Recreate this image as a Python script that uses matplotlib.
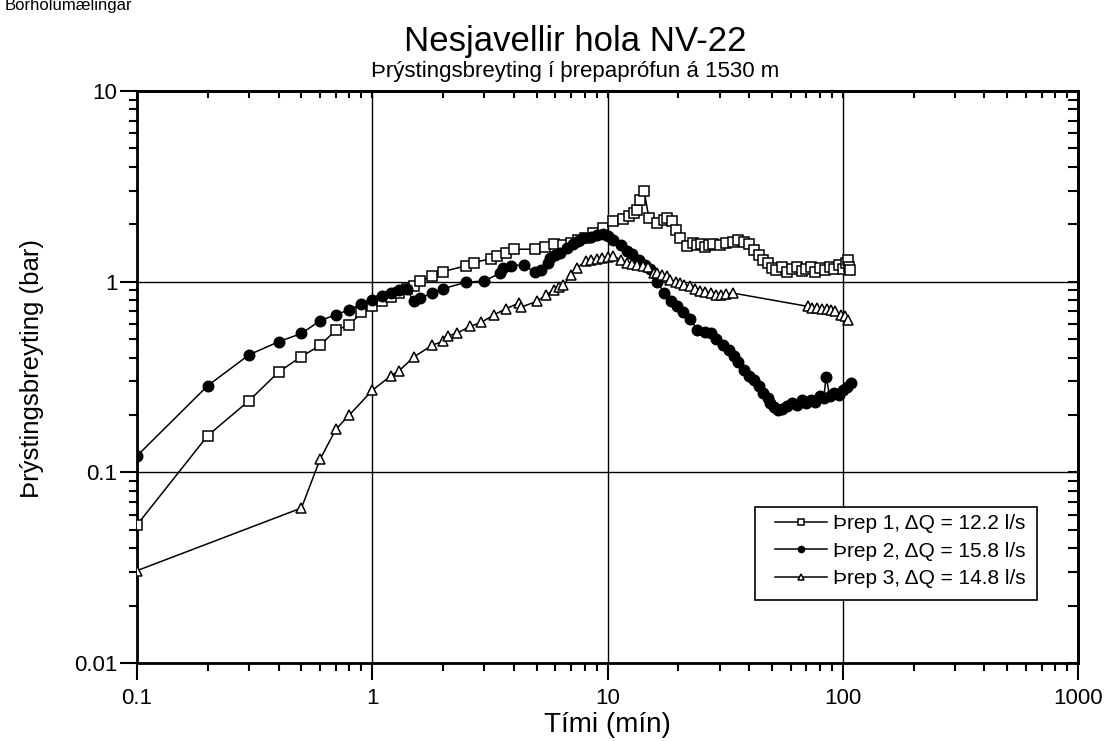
import matplotlib.pyplot as plt
from matplotlib.patches import Rectangle
from matplotlib.ticker import LogLocator, NullFormatter, FixedLocator, FixedFormatter

plt.rcParams['font.family'] = ['Liberation Sans', 'DejaVu Sans']

# Þrep 1 (squares)
t1 = [0.1, 0.2, 0.3, 0.4, 0.5, 0.6, 0.7, 0.8, 0.9, 1.0,
      1.1, 1.2, 1.3, 1.4, 1.5, 1.6, 1.8, 2.0, 2.5, 2.7,
      3.2, 3.4, 3.7, 4.0, 4.9, 5.4, 5.9, 6.5, 7.0, 7.5,
      8.0, 8.7, 9.6, 10.6, 11.6, 12.3, 13.0, 13.4, 13.8, 14.3,
      15.0, 16.3, 17.3, 17.9, 18.8, 19.5, 20.4, 21.8, 23, 24,
      25, 26, 27, 28, 30, 32, 34, 36, 38, 40,
      42, 44, 46, 48, 50, 52, 55, 58, 61, 64,
      67, 70, 73, 76, 80, 84, 88, 92, 96, 100,
      103, 105, 106, 107]
p1 = [0.053, 0.156, 0.238, 0.336, 0.405, 0.463, 0.557, 0.593, 0.69, 0.742,
      0.79, 0.83, 0.87, 0.92, 0.95, 1.01, 1.07, 1.13, 1.21, 1.26,
      1.32, 1.36, 1.41, 1.48, 1.48, 1.52, 1.58, 1.56, 1.6, 1.65,
      1.7, 1.8, 1.91, 2.07, 2.12, 2.2, 2.3, 2.39, 2.69, 3.0,
      2.16, 2.03, 2.1, 2.16, 2.07, 1.87, 1.69, 1.53, 1.6, 1.55,
      1.58, 1.52, 1.56, 1.58, 1.55, 1.6, 1.62, 1.65, 1.62, 1.58,
      1.47, 1.38, 1.3, 1.25, 1.18, 1.15, 1.2, 1.13, 1.16, 1.2,
      1.14, 1.17, 1.2, 1.13, 1.18, 1.15, 1.2, 1.16, 1.22, 1.17,
      1.25, 1.3, 1.2, 1.15]

# Þrep 2 (filled circles)
t2 = [0.1, 0.2, 0.3, 0.4, 0.5, 0.6, 0.7, 0.8, 0.9, 1.0,
      1.1, 1.2, 1.3, 1.4, 1.5, 1.6, 1.8, 2.0, 2.5, 3.0,
      3.5, 3.6, 3.9, 4.4, 4.9, 5.2, 5.6, 5.7, 6.0, 6.3,
      6.7, 7.1, 7.5, 7.9, 8.5, 9.0, 9.6, 10.0, 10.6, 11.4,
      12.1, 12.7, 13.6, 14.5, 15.2, 16.3, 17.4, 18.6, 19.8, 21,
      22.5, 24, 26, 27.5, 29, 31, 33, 34.5, 36, 38,
      40, 42, 44, 46, 48, 49, 51, 53, 55, 58,
      61, 64, 67, 70, 73, 76, 80, 83, 85, 88,
      92, 96, 100, 104, 108]
p2 = [0.122, 0.285, 0.414, 0.484, 0.535, 0.624, 0.671, 0.713, 0.766, 0.804,
      0.845, 0.872, 0.908, 0.92, 0.788, 0.821, 0.872, 0.919, 0.992, 1.01,
      1.11, 1.18, 1.21, 1.23, 1.12, 1.15, 1.25, 1.33, 1.38, 1.41,
      1.5, 1.57, 1.63, 1.7, 1.72, 1.76, 1.78, 1.73, 1.66, 1.56,
      1.44, 1.39, 1.3, 1.23, 1.16, 1.0, 0.872, 0.788, 0.742, 0.69,
      0.64, 0.56, 0.545, 0.538, 0.5, 0.467, 0.44, 0.406, 0.38, 0.345,
      0.32, 0.306, 0.285, 0.26, 0.245, 0.231, 0.22, 0.213, 0.215, 0.222,
      0.23, 0.225, 0.24, 0.232, 0.24, 0.235, 0.25, 0.245, 0.318, 0.25,
      0.26, 0.255, 0.271, 0.28, 0.294]

# Þrep 3 (open triangles)
t3 = [0.1, 0.5, 0.6, 0.7, 0.8, 1.0, 1.2, 1.3, 1.5, 1.8,
      2.0, 2.1, 2.3, 2.6, 2.9, 3.3, 3.7, 4.2, 4.3, 5.0,
      5.5, 5.9, 6.2, 6.5, 7.0, 7.4, 8.1, 8.5, 9.0, 9.5,
      10.0, 10.6, 11.4, 12.1, 12.7, 13.4, 14.1, 14.8, 15.7, 16.3,
      17.1, 17.9, 18.5, 19.5, 20.4, 21.1, 22.5, 23.5, 24.8, 26,
      27.5, 29, 30.3, 32, 34, 71, 74, 78, 82, 86,
      89, 93, 98, 102, 105]
p3 = [0.0305, 0.065, 0.117, 0.168, 0.2, 0.269, 0.321, 0.341, 0.402, 0.465,
      0.486, 0.52, 0.538, 0.582, 0.611, 0.671, 0.721, 0.773, 0.736, 0.788,
      0.85, 0.908, 0.94, 0.964, 1.08, 1.18, 1.28, 1.3, 1.31, 1.33,
      1.35, 1.36, 1.3, 1.25, 1.24, 1.23, 1.21, 1.2, 1.11, 1.11,
      1.09, 1.07, 1.02, 1.0, 0.984, 0.964, 0.945, 0.92, 0.89, 0.88,
      0.872, 0.855, 0.855, 0.86, 0.872, 0.742, 0.73, 0.727, 0.72, 0.715,
      0.713, 0.7, 0.671, 0.66, 0.632]

labels = ['Þrep 1, ΔQ = 12.2 l/s', 'Þrep 2, ΔQ = 15.8 l/s', 'Þrep 3, ΔQ = 14.8 l/s']
x_ticks = [0.1, 1, 10, 100, 1000]
x_ticklabels = ['0.1', '1', '10', '100', '1000']
y_ticks = [0.01, 0.1, 1, 10]
y_ticklabels = ['0.01', '0.1', '1', '10']

W, H = 1105, 741
fig = plt.figure(figsize=(W / 100, H / 100), dpi=100)
ax = fig.add_axes([137 / W, 1 - 663 / H, (1078 - 137) / W, (663 - 91) / H])

ax.plot(t1, p1, '-', color='black', lw=1.1, marker='s', ms=6.6, mfc='white', mec='black', mew=1.1,
        label=labels[0], zorder=3)
ax.plot(t2, p2, '-', color='black', lw=1.1, marker='o', ms=7.6, mfc='black', mec='black',
        label=labels[1], zorder=3)
ax.plot(t3, p3, '-', color='black', lw=1.1, marker='^', ms=7.8, mfc='white', mec='black', mew=1.1,
        label=labels[2], zorder=3)

ax.set_xscale('log')
ax.set_yscale('log')
ax.set_xlim(0.1, 1000)
ax.set_ylim(0.01, 10)

ax.xaxis.set_major_locator(FixedLocator(x_ticks))
ax.xaxis.set_major_formatter(FixedFormatter(x_ticklabels))
ax.yaxis.set_major_locator(FixedLocator(y_ticks))
ax.yaxis.set_major_formatter(FixedFormatter(y_ticklabels))
ax.xaxis.set_minor_locator(LogLocator(base=10, subs=range(2, 10), numticks=20))
ax.yaxis.set_minor_locator(LogLocator(base=10, subs=range(2, 10), numticks=20))
ax.xaxis.set_minor_formatter(NullFormatter())
ax.yaxis.set_minor_formatter(NullFormatter())
ax.tick_params(which='major', direction='out', length=12, width=1.5, labelsize=16)
ax.tick_params(which='minor', direction='out', length=6, width=1.5)
ax.tick_params(axis='x', which='major', pad=6)
ax.tick_params(axis='y', which='major', pad=2)

ax.grid(True, which='major', color='black', lw=1.0)
for s in ax.spines.values():
    s.set_linewidth(2)

# mirrored ticks pointing into the plot on top and right
top = ax.secondary_xaxis('top')
top.xaxis.set_major_locator(FixedLocator(x_ticks))
top.xaxis.set_minor_locator(LogLocator(base=10, subs=range(2, 10), numticks=20))
top.xaxis.set_major_formatter(NullFormatter())
top.xaxis.set_minor_formatter(NullFormatter())
top.tick_params(which='both', direction='in', length=5, width=1.5)
top.spines['top'].set_linewidth(2)
right = ax.secondary_yaxis('right')
right.yaxis.set_major_locator(FixedLocator(y_ticks))
right.yaxis.set_minor_locator(LogLocator(base=10, subs=range(2, 10), numticks=20))
right.yaxis.set_major_formatter(NullFormatter())
right.yaxis.set_minor_formatter(NullFormatter())
right.tick_params(which='both', direction='in', length=7, width=1.5)
right.spines['right'].set_linewidth(2)

ax.set_xlabel('Tími (mín)', fontsize=20, labelpad=2)
ax.set_ylabel('Þrýstingsbreyting (bar)', fontsize=18.5)
ax.yaxis.set_label_coords(-0.099, 0.515)

fig.text(575 / W, 1 - 42 / H, 'Nesjavellir hola NV-22', fontsize=25,
         ha='center', va='center')
fig.text(575 / W, 1 - 72 / H, 'Þrýstingsbreyting í þrepaprófun á 1530 m',
         fontsize=16, ha='center', va='center')
fig.text(5 / W, 1 - 10 / H, 'Borholumælingar', fontsize=12, ha='left', va='baseline')

# legend box drawn separately so the padding matches the original
box = Rectangle((755 / W, 1 - 600 / H), (1037 - 755) / W, (600 - 507) / H,
                transform=fig.transFigure, facecolor='white', edgecolor='black', lw=1.2,
                zorder=4, clip_on=False)
ax.add_artist(box)
leg = ax.legend(loc='upper left', bbox_to_anchor=(775 / W, 1 - 514 / H),
                bbox_transform=fig.transFigure, fontsize=15, frameon=False,
                handlelength=2.5, handletextpad=0.29, borderpad=0,
                labelspacing=0.42, borderaxespad=0)
leg.set_zorder(5)
for h in leg.legend_handles:
    h.set_markersize(4.5)

fig.savefig('out.png', dpi=100)
